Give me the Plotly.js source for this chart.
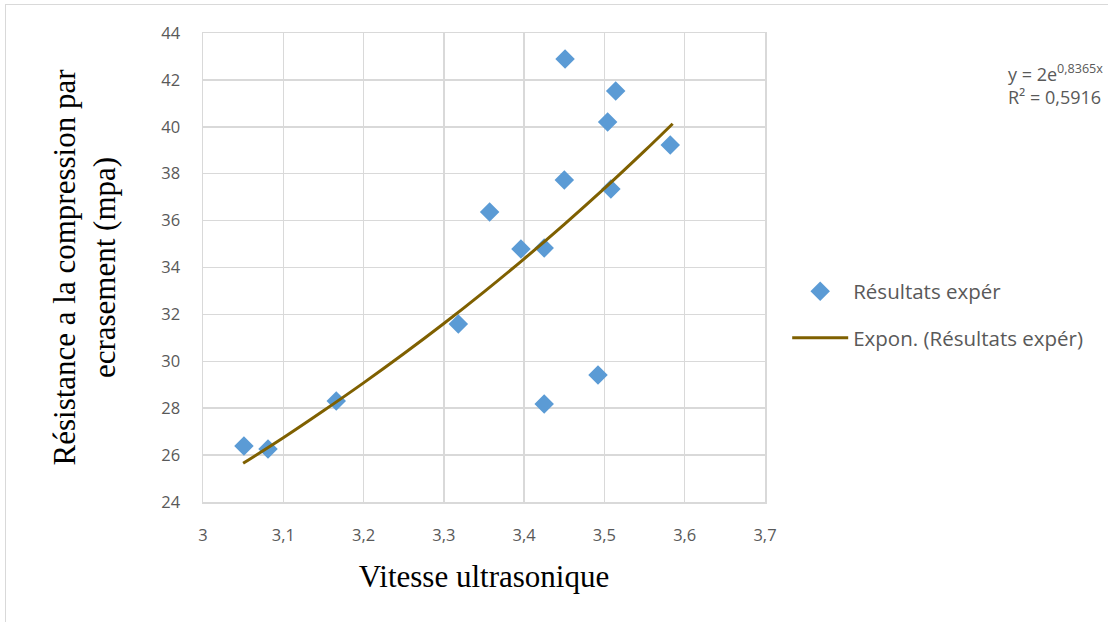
<!DOCTYPE html>
<html>
<head>
<meta charset="utf-8">
<script src="https://cdn.plot.ly/plotly-3.0.1.min.js"></script>
<style>
  html, body { margin: 0; padding: 0; background: #fff; }
  #wrap { position: relative; width: 1108px; height: 622px; }
  #chart { width: 1108px; height: 622px; }
  #frame { position: absolute; left: 5px; top: 4px; right: -2px; bottom: -2px;
           border-top: 1px solid #d9d9d9; border-left: 1px solid #d9d9d9; pointer-events: none; }
</style>
</head>
<body>
<div id="wrap"><div id="chart"></div><div id="frame"></div></div>
<script>
// Experimental points (ultrasonic velocity vs compressive strength)
const vitesse = [3.051, 3.081, 3.166, 3.318, 3.357, 3.396, 3.425, 3.425, 3.450, 3.451, 3.492, 3.504, 3.508, 3.514, 3.582];
const resistance = [26.39, 26.26, 28.31, 31.59, 36.37, 34.79, 34.83, 28.18, 37.73, 42.89, 29.42, 40.20, 37.35, 41.53, 39.22];

// Exponential trendline as drawn (y = 2e^0,8365x)
const trendX = [3.05, 3.10, 3.15, 3.20, 3.25, 3.30, 3.35, 3.40, 3.45, 3.50, 3.55, 3.585];
const trendY = [25.65, 26.74, 27.89, 29.08, 30.32, 31.61, 32.96, 34.37, 35.84, 37.37, 38.97, 40.13];

// Axis ticks
const xTickVals = [3, 3.1, 3.2, 3.3, 3.4, 3.5, 3.6, 3.7];
const xTickText = ["3", "3,1", "3,2", "3,3", "3,4", "3,5", "3,6", "3,7"];
const yTickVals = [24, 26, 28, 30, 32, 34, 36, 38, 40, 42, 44];

const seriesName = "Résultats expér";
const trendName = "Expon. (Résultats expér)";
const equationText = "y = 2e<sup>0,8365x</sup><br>R² = 0,5916";

const tickFont = { family: "Open Sans, Noto Sans, sans-serif", size: 16.5, color: "#595959" };
const titleFont = { family: "Liberation Serif, Times New Roman, serif", size: 31, color: "#000000" };

const traces = [
  {
    x: vitesse, y: resistance, type: "scatter", mode: "markers", name: seriesName,
    marker: { symbol: "diamond", size: 15, color: "#5B9BD5" },
    legendgroup: "a"
  },
  {
    x: trendX, y: trendY, type: "scatter", mode: "lines", name: trendName,
    line: { color: "#7F6000", width: 3, shape: "spline" },
    legendgroup: "b"
  }
];

const layout = {
  width: 1108, height: 622,
  margin: { l: 203, r: 343, t: 33, b: 120 },
  paper_bgcolor: "#ffffff", plot_bgcolor: "#ffffff",
  showlegend: true,
  xaxis: {
    range: [3, 3.7], tickvals: xTickVals, ticktext: xTickText,
    showgrid: true, gridcolor: "#d9d9d9", gridwidth: 1.5,
    showline: true, linecolor: "#d9d9d9", linewidth: 1.5, mirror: true,
    zeroline: false, ticks: "", tickfont: tickFont, ticklabelstandoff: 18,
    title: { text: "Vitesse ultrasonique", font: titleFont, standoff: 20 }
  },
  yaxis: {
    range: [24, 44], tickvals: yTickVals,
    showgrid: true, gridcolor: "#d9d9d9", gridwidth: 1.5,
    showline: true, linecolor: "#d9d9d9", linewidth: 1.5, mirror: true,
    zeroline: false, ticks: "", tickfont: tickFont, ticklabelstandoff: 18,
    title: { text: "Résistance a la compression par<br>ecrasement (mpa)", font: titleFont, standoff: 36 }
  },
  legend: {
    x: 1.0395, y: 0.399, xanchor: "left", yanchor: "middle",
    font: { family: "Open Sans, Noto Sans, sans-serif", size: 20.5, color: "#595959" },
    itemwidth: 56, tracegroupgap: 17, traceorder: "grouped",
    bgcolor: "rgba(0,0,0,0)"
  },
  annotations: [
    {
      text: equationText, xref: "paper", yref: "paper",
      x: 1.4285, y: 0.891, xanchor: "left", yanchor: "middle", align: "left",
      showarrow: false,
      font: { family: "Open Sans, Noto Sans, sans-serif", size: 18, color: "#595959" }
    }
  ]
};

Plotly.newPlot("chart", traces, layout, { displayModeBar: false, staticPlot: true });
</script>
</body>
</html>
